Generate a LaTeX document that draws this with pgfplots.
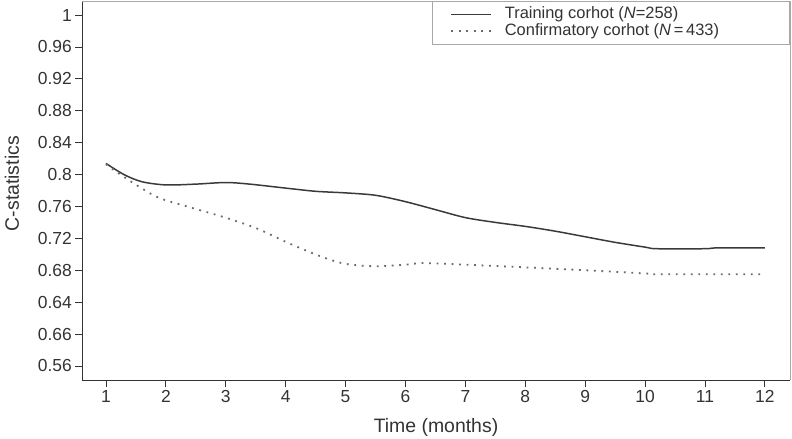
\documentclass[border=0pt]{standalone}
\usepackage{fontspec}
\setmainfont{Liberation Sans}
\usepackage{pgfplots}
\pgfplotsset{compat=1.18}
\definecolor{ink}{HTML}{333333}
\definecolor{lineA}{HTML}{3A3A3A}
\definecolor{lineB}{HTML}{6A6A6A}
\definecolor{frame}{HTML}{A8A8A8}
\begin{document}
\begin{tikzpicture}
\begin{axis}[name=ax,
  width=708bp, height=379bp, scale only axis,
  xmin=0.6, xmax=12.42, ymin=0.5424, ymax=1.0176,
  axis lines*=left,
  axis line style={-, draw=ink, line width=1pt},
  clip=false,
  xtick={1,2,3,4,5,6,7,8,9,10,11,12},
  xticklabels={1,2,3,4,5,6,7,8,9,10,11,12},
  ytick={0.56,0.60,0.64,0.68,0.72,0.76,0.80,0.84,0.88,0.92,0.96,1.00},
  yticklabels={0.56,0.66,0.64,0.68,0.72,0.76,0.8,0.84,0.88,0.92,0.96,1},
  tick align=outside, major tick length=7bp,
  tick style={draw=ink, line width=0.8pt},
  tick label style={font=\fontsize{17.5}{20}\selectfont, text=ink},
  yticklabel style={inner sep=3bp},
  xticklabel style={inner sep=3bp},
  xlabel={Time (months)}, ylabel={C-statistics},
  label style={font=\fontsize{19.5}{22}\selectfont, text=ink},
  xlabel style={at={(axis description cs:0.5,-0.124)}, anchor=center},
  ylabel style={at={(axis description cs:-0.099,0.518)}, anchor=center},
  legend style={at={(rel axis cs:1,1)}, anchor=north east, draw=frame, line width=0.8pt,
    font=\fontsize{16.5}{18}\selectfont, text=ink, inner xsep=18bp, inner ysep=5bp,
    row sep=1bp, nodes={inner sep=0.5bp, text height=11.5bp, text depth=3.5bp},
    /tikz/every odd column/.append style={column sep=12bp}},
  legend cell align=left,
  legend image code/.code={\draw[#1] (0bp,0bp) -- (40bp,0bp);},
]
\addplot[lineA, line width=1.5pt, smooth] coordinates {
(1.0,0.814) (1.3,0.800) (1.6,0.791) (2.0,0.787) (2.5,0.788) (3.0,0.790) (3.4,0.788)
(4.0,0.783) (4.5,0.779) (5.0,0.777) (5.5,0.774) (6.0,0.766) (6.5,0.756) (7.0,0.746)
(7.5,0.740) (8.0,0.735) (8.5,0.729) (9.0,0.722) (9.5,0.715) (10.0,0.709) (10.2,0.707)
(11.0,0.707) (11.2,0.708) (12.0,0.708)
};
\addlegendentry{Training corhot (\textit{N}=258)}
\addplot[lineB, line width=1.8pt, dash pattern=on 1.8bp off 5.7bp, smooth] coordinates {
(1.0,0.813) (1.3,0.797) (1.85,0.772) (2.4,0.759) (2.95,0.747) (3.5,0.733) (4.05,0.714)
(4.6,0.697) (5.0,0.688) (5.5,0.685) (6.0,0.687) (6.3,0.689) (7.0,0.687) (7.9,0.684)
(9.0,0.680) (10.0,0.676) (10.2,0.675) (12.0,0.675)
};
\addlegendentry{Confirmatory corhot (\textit{N}\,=\,433)\hspace*{52bp}}
\draw[frame, line width=0.8pt] (rel axis cs:0,1) -- (rel axis cs:1,1) -- (rel axis cs:1,0);
\end{axis}
\pgfresetboundingbox
\useasboundingbox ([shift={(-82bp,-59bp)}]ax.south west) rectangle ([shift={(2bp,1bp)}]ax.north east);
\end{tikzpicture}
\end{document}
